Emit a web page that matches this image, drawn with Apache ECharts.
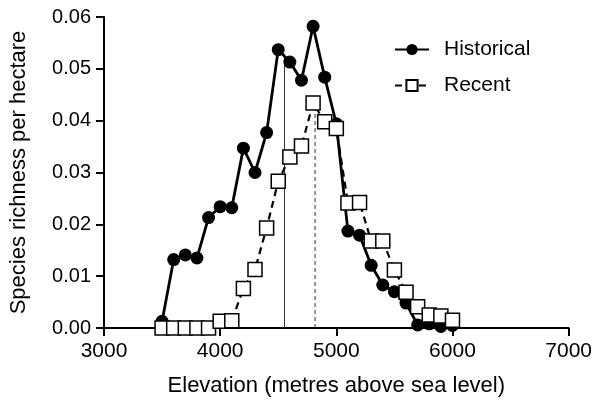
<!DOCTYPE html>
<html>
<head>
<meta charset="utf-8">
<script src="https://cdn.jsdelivr.net/npm/echarts@6/dist/echarts.min.js"></script>
<style>
    html, body { margin: 0; padding: 0; background: #fff; }
    #chart { width: 595px; height: 404px; }
</style>
</head>
<body>
<div id="chart"></div>
<script>
// elevation bands (m)
const elevations = [3500, 3600, 3700, 3800, 3900, 4000, 4100, 4200, 4300, 4400, 4500, 4600, 4700,
    4800, 4900, 5000, 5100, 5200, 5300, 5400, 5500, 5600, 5700, 5800, 5900, 6000];
// species richness per hectare
const historical = [0.0013, 0.0132, 0.0141, 0.0135, 0.0213, 0.0234, 0.0232, 0.0347, 0.0300, 0.0377,
    0.0537, 0.0513, 0.0478, 0.0582, 0.0484, 0.0394, 0.0187, 0.0179, 0.0121, 0.0083, 0.0070,
    0.0048, 0.0006, 0.0008, 0.0003, 0.0005];
const recent = [0, 0, 0, 0, 0, 0.0013, 0.0014, 0.0076, 0.0113, 0.0193, 0.0283, 0.0330, 0.0351,
    0.0434, 0.0398, 0.0385, 0.0241, 0.0242, 0.0168, 0.0168, 0.0112, 0.0069, 0.0041, 0.0025,
    0.0023, 0.0015];
// mean elevation markers: [elevation, top value]
const historicalMean = [4554, 0.0529];
const recentMean = [4817, 0.0428];

const font = "'Liberation Sans', Arial, sans-serif";

const chart = echarts.init(document.getElementById('chart'));

const pairs = (ys) => elevations.map((x, i) => [x, ys[i]]);

const option = {
    animation: false,
    textStyle: { fontFamily: font, color: '#000' },
    grid: { left: 102, right: 26, top: 17, bottom: 76 },
    legend: {
        orient: 'vertical',
        left: 389,
        top: 34,
        itemWidth: 34,
        itemHeight: 14,
        itemGap: 15,
        textStyle: { fontFamily: font, fontSize: 21, color: '#000', padding: [0, 0, 0, 10] },
        data: ['Historical', 'Recent']
    },
    xAxis: {
        type: 'value',
        min: 3000,
        max: 7000,
        interval: 1000,
        name: 'Elevation (metres above sea level)',
        nameLocation: 'middle',
        nameGap: 47,
        nameTextStyle: { fontFamily: font, fontSize: 22, color: '#000' },
        axisLine: { onZero: false, lineStyle: { color: '#000', width: 2 } },
        axisTick: { length: 8, lineStyle: { color: '#000', width: 2 } },
        axisLabel: {
            margin: 13, fontFamily: font, fontSize: 21, color: '#000',
            formatter: (v) => String(v)
        },
        splitLine: { show: false }
    },
    yAxis: {
        type: 'value',
        min: 0,
        max: 0.06,
        interval: 0.01,
        name: 'Species richness per hectare',
        nameLocation: 'middle',
        nameGap: 74,
        nameTextStyle: { fontFamily: font, fontSize: 22, color: '#000' },
        axisLine: { show: true, lineStyle: { color: '#000', width: 2 } },
        axisTick: { show: true, length: 8, lineStyle: { color: '#000', width: 2 } },
        axisLabel: {
            margin: 13, fontFamily: font, fontSize: 20, color: '#000',
            formatter: (v) => v.toFixed(2)
        },
        splitLine: { show: false }
    },
    series: [
        {
            name: 'hist-mean',
            type: 'line',
            data: [[historicalMean[0], 0], historicalMean],
            symbol: 'none',
            lineStyle: { color: '#333', width: 1 },
            z: 1
        },
        {
            name: 'recent-mean',
            type: 'line',
            data: [[recentMean[0], 0], recentMean],
            symbol: 'none',
            lineStyle: { color: '#333', width: 1, type: [4, 3] },
            z: 1
        },
        {
            name: 'Historical',
            type: 'line',
            data: pairs(historical),
            symbol: 'circle',
            symbolSize: 13,
            itemStyle: { color: '#000' },
            lineStyle: { color: '#000', width: 2.8 },
            z: 3
        },
        {
            name: 'Recent',
            type: 'line',
            data: pairs(recent),
            symbol: 'rect',
            symbolSize: 14,
            itemStyle: { color: '#fff', borderColor: '#000', borderWidth: 1.5 },
            lineStyle: { color: '#000', width: 2.2, type: [7, 5] },
            z: 4
        }
    ]
};

chart.setOption(option);
</script>
</body>
</html>
